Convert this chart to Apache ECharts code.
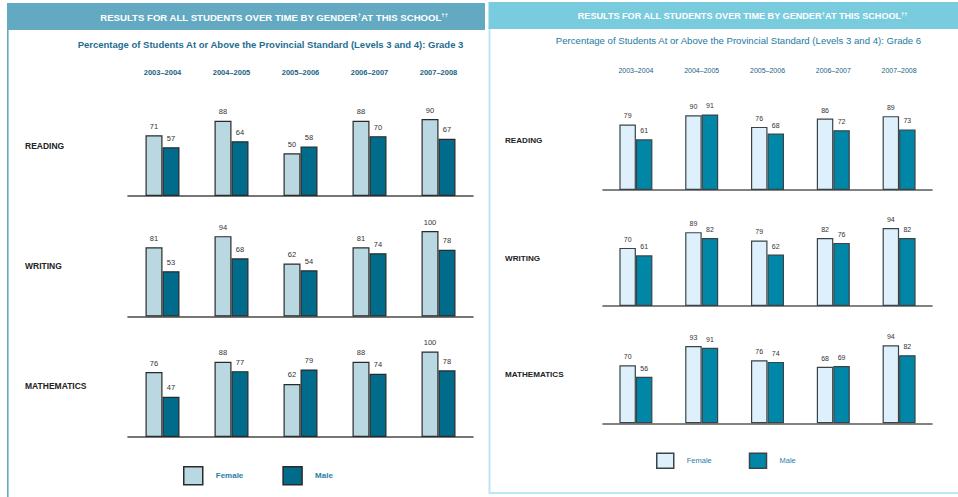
<!DOCTYPE html>
<html>
<head>
<meta charset="utf-8">
<script src="https://cdn.jsdelivr.net/npm/echarts@6/dist/echarts.min.js"></script>
<style>
  html, body { margin: 0; padding: 0; background: #ffffff; }
  #chart { width: 958px; height: 497px; }
</style>
</head>
<body>
<div id="chart"></div>
<script>
// ---- data ----
const years = ['2003–2004', '2004–2005', '2005–2006', '2006–2007', '2007–2008'];
const subjects = ['READING', 'WRITING', 'MATHEMATICS'];
const genders = ['Female', 'Male'];

const g3ReadingFemale = [71, 88, 50, 88, 90];
const g3ReadingMale   = [57, 64, 58, 70, 67];
const g3WritingFemale = [81, 94, 62, 81, 100];
const g3WritingMale   = [53, 68, 54, 74, 78];
const g3MathFemale    = [76, 88, 62, 88, 100];
const g3MathMale      = [47, 77, 79, 74, 78];

const g6ReadingFemale = [79, 90, 76, 86, 89];
const g6ReadingMale   = [61, 91, 68, 72, 73];
const g6WritingFemale = [70, 89, 79, 82, 94];
const g6WritingMale   = [61, 82, 62, 76, 82];
const g6MathFemale    = [70, 93, 76, 68, 94];
const g6MathMale      = [56, 91, 74, 69, 82];

const headerText = 'RESULTS FOR ALL STUDENTS OVER TIME BY GENDER';
const headerText2 = 'AT THIS SCHOOL';
const subtitleG3 = 'Percentage of Students At or Above the Provincial Standard (Levels 3 and 4): Grade 3';
const subtitleG6 = 'Percentage of Students At or Above the Provincial Standard (Levels 3 and 4): Grade 6';

// ---- layout / style ----
const FONT = '"Liberation Sans", Arial, sans-serif';
const panels = [
  {
    female: [g3ReadingFemale, g3WritingFemale, g3MathFemale],
    male: [g3ReadingMale, g3WritingMale, g3MathMale],
    left: 128, width: 345, height: 85.5, baselines: [196, 316.5, 437],
    barWidth: 17, femaleColor: '#b9d8e2', maleColor: '#006b8b', border: '#2a2a2a',
    axisColor: '#4a4a4a', yearY: 73, yearSize: 7.5, yearWeight: 'bold',
    labelX: 25, labelYs: [146, 266, 386], labelSize: 7.5, rowSize: 8.5,
    legendLeft: 183, legendTop: 466, legendW: 19, legendH: 18, legendSize: 8, legendGap: 39
  },
  {
    female: [g6ReadingFemale, g6WritingFemale, g6MathFemale],
    male: [g6ReadingMale, g6WritingMale, g6MathMale],
    left: 603, width: 329, height: 83, baselines: [190, 306, 423.3],
    barWidth: 16.5, femaleColor: '#ddf0fb', maleColor: '#0086a6', border: '#3a4448',
    axisColor: '#5a5a5a', yearY: 70, yearSize: 7, yearWeight: 'normal',
    labelX: 505, labelYs: [140, 258, 374], labelSize: 7, rowSize: 8.1,
    legendLeft: 656, legendTop: 452.5, legendW: 17, legendH: 15, legendSize: 7.5, legendGap: 37
  }
];

function makeLabel(p) {
  return { show: true, position: 'top', distance: 5, fontSize: p.labelSize, color: '#333333',
    textBorderWidth: 0, fontFamily: FONT };
}

const grid = [], xAxis = [], yAxis = [], series = [], legend = [];
panels.forEach((p, pi) => {
  subjects.forEach((s, si) => {
    const gi = grid.length;
    const top = p.baselines[si] - p.height;
    grid.push({ left: p.left, top: top, width: p.width, height: p.height });
    const bottomAxisIndex = xAxis.length;
    xAxis.push({
      type: 'category', gridIndex: gi, data: years, position: 'bottom',
      axisLine: { show: true, lineStyle: { color: p.axisColor, width: 1.6 } },
      axisTick: { show: false }, axisLabel: { show: false }, splitLine: { show: false }
    });
    if (si === 0) {
      xAxis.push({
        type: 'category', gridIndex: gi, data: years, position: 'top',
        offset: top - p.yearY - 4 - p.yearSize / 2,
        axisLine: { show: false }, axisTick: { show: false },
        axisLabel: { show: true, margin: 4, fontSize: p.yearSize, fontWeight: p.yearWeight,
          color: '#1b5f83', fontFamily: FONT, interval: 0 },
        splitLine: { show: false }
      });
    }
    yAxis.push({ type: 'value', gridIndex: gi, min: 0, max: 100, show: false, splitLine: { show: false } });
    const yi = yAxis.length - 1;
    series.push({
      name: genders[0], type: 'bar', xAxisIndex: bottomAxisIndex, yAxisIndex: yi,
      data: p.female[si], barWidth: p.barWidth, barGap: '0%',
      itemStyle: { color: p.femaleColor, borderColor: p.border, borderWidth: 1.2 },
      label: makeLabel(p), emphasis: { disabled: true }
    });
    series.push({
      name: genders[1], type: 'bar', xAxisIndex: bottomAxisIndex, yAxisIndex: yi,
      data: p.male[si], barWidth: p.barWidth, barGap: '0%',
      itemStyle: { color: p.maleColor, borderColor: p.border, borderWidth: 1.2 },
      label: makeLabel(p), emphasis: { disabled: true }
    });
  });
  legend.push({
    left: p.legendLeft, top: p.legendTop, orient: 'horizontal', icon: 'rect', padding: 0,
    itemWidth: p.legendW, itemHeight: p.legendH, itemGap: p.legendGap,
    selectedMode: false,
    textStyle: { fontSize: p.legendSize, fontWeight: pi === 0 ? 'bold' : 'normal', color: '#2a7ea8',
      fontFamily: FONT, padding: [0, 0, 0, 8] },
    data: [
      { name: genders[0], itemStyle: { color: p.femaleColor, borderColor: p.border, borderWidth: 1.5 } },
      { name: genders[1], itemStyle: { color: p.maleColor, borderColor: p.border, borderWidth: 1.5 } }
    ]
  });
});

const graphic = [
  // left panel frame
  { type: 'rect', shape: { x: 7, y: 3, width: 478, height: 27 }, style: { fill: '#62a9c1' }, silent: true },
  { type: 'rect', shape: { x: 7, y: 30, width: 1.6, height: 467 }, style: { fill: '#62a9c1' }, silent: true },
  // right panel frame
  { type: 'rect', shape: { x: 489.5, y: 28, width: 470, height: 465 },
    style: { fill: 'none', stroke: '#bfe6f5', lineWidth: 2 }, silent: true },
  { type: 'rect', shape: { x: 488.5, y: 2, width: 470, height: 27 }, style: { fill: '#79cbde' }, silent: true },
  // header texts
  { type: 'text', x: 274, y: 17, silent: true,
    style: { text: '{a|' + headerText + '}{s|†}{a|' + headerText2 + '}{s|††}', align: 'center', verticalAlign: 'middle',
      rich: { a: { fontSize: 9.6, fontWeight: 'bold', fill: '#ffffff', fontFamily: FONT },
              s: { fontSize: 6, fontWeight: 'bold', fill: '#ffffff', fontFamily: FONT, verticalAlign: 'top', padding: [0, 0, 4, 0] } } } },
  { type: 'text', x: 742.5, y: 16, silent: true,
    style: { text: '{a|' + headerText + '}{s|†}{a|' + headerText2 + '}{s|††}', align: 'center', verticalAlign: 'middle',
      rich: { a: { fontSize: 9.1, fontWeight: 'bold', fill: '#ffffff', fontFamily: FONT },
              s: { fontSize: 5.8, fontWeight: 'bold', fill: '#ffffff', fontFamily: FONT, verticalAlign: 'top', padding: [0, 0, 4, 0] } } } },
  { type: 'text', x: 270.5, y: 44, silent: true,
    style: { text: subtitleG3, align: 'center', verticalAlign: 'middle', fontSize: 9.5, fontWeight: 'bold',
      fill: '#1d6d92', fontFamily: FONT } },
  { type: 'text', x: 738.5, y: 40, silent: true,
    style: { text: subtitleG6, align: 'center', verticalAlign: 'middle', fontSize: 9.6, fontWeight: 'normal',
      fill: '#1d7aa0', fontFamily: FONT } }
];
panels.forEach((p, pi) => {
  subjects.forEach((s, si) => {
    graphic.push({ type: 'text', x: p.labelX, y: p.labelYs[si], silent: true,
      style: { text: s, align: 'left', verticalAlign: 'middle', fontSize: p.rowSize,
        fontWeight: 'bold', fill: '#222', fontFamily: FONT } });
  });
});

const chart = echarts.init(document.getElementById('chart'), null, { renderer: 'svg', width: 958, height: 497 });
chart.setOption({
  animation: false,
  backgroundColor: '#ffffff',
  textStyle: { fontFamily: FONT },
  grid, xAxis, yAxis, series, legend, graphic,
  tooltip: { show: false }
});
</script>
</body>
</html>
